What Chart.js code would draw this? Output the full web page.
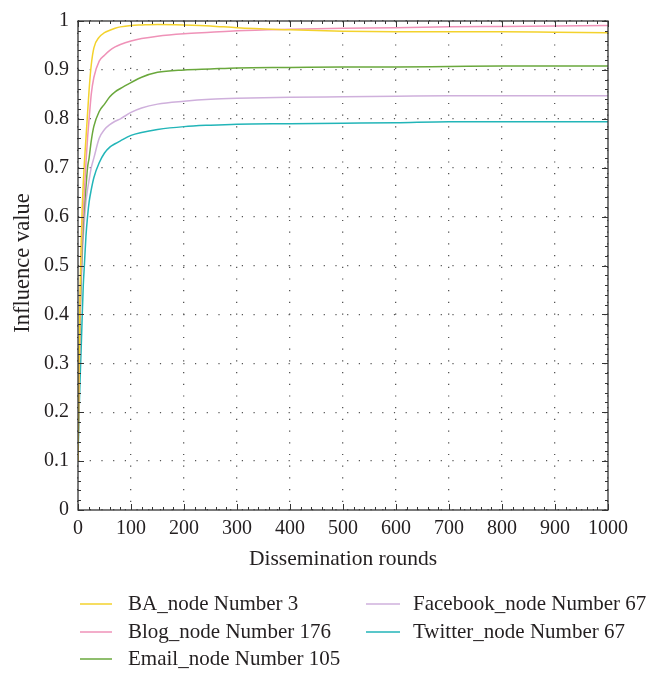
<!DOCTYPE html>
<html>
<head>
<meta charset="utf-8">
<script src="https://cdn.jsdelivr.net/npm/chart.js@4.4.0/dist/chart.umd.min.js"></script>
<style>
  html, body { margin: 0; padding: 0; background: #fff; }
</style>
</head>
<body>
<canvas id="myChart" width="665" height="674"></canvas>
<script>
// dissemination rounds sampled along the x axis
const rounds = [0, 2, 4, 6, 8, 10, 12, 15, 18, 21, 25, 30, 40, 50, 60, 70, 80, 100, 120, 150, 200, 250, 300, 400, 500, 600, 700, 800, 900, 1000];

// influence values
const baNode = [0.1, 0.3, 0.45, 0.55, 0.62, 0.67, 0.71, 0.76, 0.81, 0.86, 0.91, 0.945, 0.967, 0.976, 0.981, 0.985, 0.988, 0.991, 0.992, 0.993, 0.992, 0.99, 0.986, 0.982, 0.979, 0.978, 0.978, 0.978, 0.977, 0.976];
const blogNode = [0.1, 0.28, 0.42, 0.5, 0.57, 0.61, 0.65, 0.71, 0.76, 0.8, 0.85, 0.885, 0.918, 0.93, 0.94, 0.947, 0.952, 0.959, 0.964, 0.969, 0.974, 0.977, 0.98, 0.983, 0.985, 0.986, 0.988, 0.989, 0.99, 0.991];
const emailNode = [0.1, 0.27, 0.4, 0.48, 0.54, 0.59, 0.62, 0.66, 0.7, 0.72, 0.755, 0.785, 0.815, 0.83, 0.845, 0.855, 0.862, 0.874, 0.885, 0.895, 0.9, 0.902, 0.904, 0.905, 0.906, 0.906, 0.907, 0.908, 0.908, 0.908];
const facebookNode = [0.1, 0.26, 0.38, 0.46, 0.52, 0.56, 0.59, 0.63, 0.655, 0.675, 0.7, 0.72, 0.76, 0.778, 0.788, 0.795, 0.8, 0.813, 0.822, 0.83, 0.836, 0.84, 0.842, 0.844, 0.845, 0.846, 0.847, 0.847, 0.847, 0.847];
const twitterNode = [0.1, 0.2, 0.27, 0.33, 0.4, 0.46, 0.5, 0.56, 0.6, 0.63, 0.655, 0.68, 0.71, 0.73, 0.742, 0.749, 0.755, 0.766, 0.772, 0.778, 0.784, 0.787, 0.789, 0.79, 0.791, 0.792, 0.794, 0.794, 0.794, 0.794];

const seriesNames = ["BA_node Number 3", "Blog_node Number 176", "Email_node Number 105", "Facebook_node Number 67", "Twitter_node Number 67"];
const seriesValues = [baNode, blogNode, emailNode, facebookNode, twitterNode];
const seriesColors = ["#f3d22c", "#ef92b8", "#6aa83c", "#cfb0dc", "#22b5b8"];

const FONT = "Liberation Serif";
const INK = "#231f20";

// frame, inward ticks, axis titles and the two-column legend
const decorPlugin = {
    id: "decor",
    afterDraw(chart) {
        const ctx = chart.ctx;
        const a = chart.chartArea;
        const xs = chart.scales.x, ys = chart.scales.y;
        ctx.save();
        ctx.strokeStyle = "#333";
        ctx.lineWidth = 1.3;
        ctx.strokeRect(a.left, a.top, a.right - a.left, a.bottom - a.top);

        ctx.lineWidth = 1;
        // x ticks: minor every 20, major every 100
        for (let v = 0; v <= 1000; v += 20) {
            const px = Math.round(xs.getPixelForValue(v)) + 0.5;
            const len = v % 100 === 0 ? 6 : 3;
            ctx.beginPath();
            ctx.moveTo(px, a.bottom); ctx.lineTo(px, a.bottom - len);
            ctx.moveTo(px, a.top); ctx.lineTo(px, a.top + len);
            ctx.stroke();
        }
        // y ticks: minor every 0.02, major every 0.1
        for (let i = 0; i <= 50; i++) {
            const py = Math.round(ys.getPixelForValue(i / 50)) + 0.5;
            const len = i % 5 === 0 ? 6 : 3;
            ctx.beginPath();
            ctx.moveTo(a.left, py); ctx.lineTo(a.left + len, py);
            ctx.moveTo(a.right, py); ctx.lineTo(a.right - len, py);
            ctx.stroke();
        }

        ctx.fillStyle = INK;
        ctx.font = "21.5px '" + FONT + "'";
        ctx.textAlign = "center";
        ctx.textBaseline = "middle";
        ctx.fillText("Dissemination rounds", (a.left + a.right) / 2, 559);
        ctx.save();
        ctx.translate(23, 263);
        ctx.rotate(-Math.PI / 2);
        ctx.font = "22.5px '" + FONT + "'";
        ctx.fillText("Influence value", 0, 0);
        ctx.restore();

        // legend
        const cols = [[80, 112, 128], [366, 400, 413]];
        const rows = [604, 632, 659];
        const place = [[0, 0], [0, 1], [0, 2], [1, 0], [1, 1]];
        ctx.textAlign = "left";
        ctx.font = "21px '" + FONT + "'";
        seriesNames.forEach((name, i) => {
            const c = cols[place[i][0]], y = rows[place[i][1]];
            ctx.strokeStyle = seriesColors[i];
            ctx.lineWidth = 1.5;
            ctx.beginPath();
            ctx.moveTo(c[0], y); ctx.lineTo(c[1], y);
            ctx.stroke();
            ctx.fillStyle = INK;
            ctx.fillText(name, c[2], y);
        });
        ctx.restore();
    }
};

new Chart("myChart", {
    type: "line",
    data: {
        datasets: seriesNames.map((name, i) => ({
            label: name,
            data: rounds.map((r, j) => ({ x: r, y: seriesValues[i][j] })),
            borderColor: seriesColors[i],
            borderWidth: 1.5,
            pointRadius: 0,
            fill: false,
            cubicInterpolationMode: "monotone"
        }))
    },
    options: {
        responsive: false,
        animation: false,
        devicePixelRatio: 1,
        layout: { padding: { left: 0, top: 10, right: 57, bottom: 0 } },
        plugins: {
            legend: { display: false },
            tooltip: { enabled: false }
        },
        scales: {
            x: {
                type: "linear",
                min: 0,
                max: 1000,
                border: { display: false, dash: [1.2, 10.5] },
                grid: { color: "#555", lineWidth: 1.3, drawTicks: false },
                ticks: {
                    stepSize: 100,
                    padding: 7,
                    color: INK,
                    font: { family: FONT, size: 20 },
                    callback: v => String(v)
                },
                afterFit: s => { s.height = 164; }
            },
            y: {
                min: 0,
                max: 1,
                border: { display: false, dash: [1.2, 10.5] },
                grid: { color: "#555", lineWidth: 1.3, drawTicks: false },
                ticks: {
                    stepSize: 0.1,
                    padding: 9,
                    color: INK,
                    font: { family: FONT, size: 20 },
                    callback: v => String(Number(v.toFixed(1)))
                },
                afterFit: s => { s.width = 78; }
            }
        }
    },
    plugins: [decorPlugin]
});
</script>
</body>
</html>
